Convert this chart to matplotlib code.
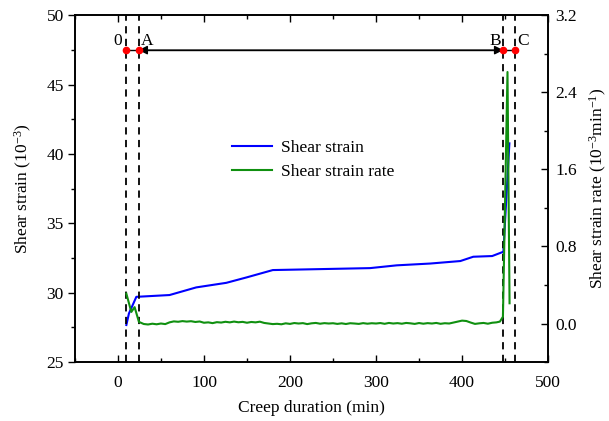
import matplotlib
matplotlib.use("Agg")
from matplotlib import pyplot as plt
from matplotlib.ticker import MultipleLocator
import numpy as np

plt.rcParams['font.family'] = ['Liberation Serif', 'DejaVu Serif']
plt.rcParams['mathtext.fontset'] = 'custom'
plt.rcParams['mathtext.rm'] = 'Liberation Serif'
plt.rcParams['mathtext.it'] = 'Liberation Serif:italic'
plt.rcParams['font.size'] = 12.5

# shear strain (10^-3) vs creep duration (min)
strain_t = [9.8, 12.8, 21.4, 60, 91, 126, 149.5, 180, 293, 324, 363, 398, 413, 435, 448, 455]
strain = [27.67, 28.5, 29.7, 29.83, 30.38, 30.71, 31.1, 31.63, 31.77, 31.97, 32.1, 32.28,
          32.59, 32.64, 32.95, 40.76]

# shear strain rate (10^-3 min^-1)
rate_t = [9.8, 15.6, 19.4, 24.4,
          30, 35, 40, 45, 50, 55, 60, 65, 70, 75, 80, 85, 90, 95, 100, 105,
          110, 115, 120, 125, 130, 135, 140, 145, 150, 155, 160, 165, 170, 175, 180, 185,
          190, 195, 200, 205, 210, 215, 220, 225, 230, 235, 240, 245, 250, 255, 260, 265,
          270, 275, 280, 285, 290, 295, 300, 305, 310, 315, 320, 325, 330, 335, 340, 345,
          350, 355, 360, 365, 370, 375, 380, 385, 390, 395, 400, 405, 410, 415, 420, 425,
          430, 435, 440, 444, 447.5, 452.8, 455.2]
rate = [0.31, 0.12, 0.17, 0.017,
        -0.005, -0.01, -0.002, -0.008, 0.0, -0.006, 0.012, 0.022, 0.018, 0.025, 0.02, 0.024, 0.016, 0.021, 0.008, 0.012,
        0.004, 0.014, 0.01, 0.018, 0.012, 0.02, 0.013, 0.017, 0.008, 0.016, 0.012, 0.019, 0.006, 0.0, -0.006, -0.003,
        -0.008, 0.002, -0.004, 0.005, 0.0, 0.004, -0.006, 0.002, 0.006, -0.002, 0.004, 0.0, 0.003, -0.004, 0.002, -0.005,
        0.003, 0.0, -0.004, 0.004, -0.002, 0.003, 0.0, 0.005, -0.003, 0.006, 0.0, 0.004, -0.002, 0.006, 0.002, -0.004,
        0.005, -0.002, 0.004, 0.0, 0.006, -0.003, 0.003, 0.0, 0.01, 0.02, 0.03, 0.026, 0.01, -0.004, 0.002, 0.006,
        -0.002, 0.008, 0.012, 0.02, 0.07, 2.61, 0.21]

# stage boundaries
event_t = [9, 24, 448, 461]
event_lbl = ['0', 'A', 'B', 'C']

fig = plt.figure(figsize=(6.09, 4.21), dpi=100)
ax = fig.add_axes([0.123, 0.140, 0.777, 0.824])
ax2 = ax.twinx()

l1, = ax.plot(strain_t, strain, color='#0000ff', lw=1.5, label='Shear strain')
l2, = ax2.plot(rate_t, rate, color='#109010', lw=1.5, label='Shear strain rate')

for t in event_t:
    ax.axvline(t, color='black', ls=(0, (4, 3)), lw=1.3)

y_ann = 47.48
ax.plot([event_t[0], event_t[3]], [y_ann, y_ann], color='black', lw=1.0)
ax.annotate('', xy=(event_t[1], y_ann), xytext=(event_t[2], y_ann),
            arrowprops=dict(arrowstyle='<|-|>', color='black', lw=1.0,
                            mutation_scale=13, shrinkA=0, shrinkB=0))
ax.plot(event_t, [y_ann] * 4, 'o', color='red', ms=4.5, zorder=5)
ax.text(event_t[0] - 4, 48.15, '0', ha='right', va='center')
ax.text(event_t[1] + 3, 48.15, 'A', ha='left', va='center')
ax.text(event_t[2] - 3, 48.15, 'B', ha='right', va='center')
ax.text(event_t[3] + 3, 48.15, 'C', ha='left', va='center')

ax.set_xlim(-50, 500)
ax.set_ylim(25, 50)
ax2.set_ylim(-0.4, 3.2)

ax.xaxis.set_major_locator(MultipleLocator(100))
ax.xaxis.set_minor_locator(MultipleLocator(50))
ax.yaxis.set_major_locator(MultipleLocator(5))
ax.yaxis.set_minor_locator(MultipleLocator(2.5))
ax2.yaxis.set_major_locator(MultipleLocator(0.8))
ax2.yaxis.set_minor_locator(MultipleLocator(0.4))
ax2.yaxis.set_major_formatter(matplotlib.ticker.FormatStrFormatter('%.1f'))

ax.tick_params(axis='x', which='both', direction='in', top=True, bottom=True)
ax.tick_params(axis='x', which='major', length=5, width=1.0, pad=9)
ax.tick_params(axis='x', which='minor', length=3, width=1.0)
ax.tick_params(axis='y', which='both', direction='out', right=False)
ax.tick_params(axis='y', which='major', length=5, width=1.0, pad=3)
ax.tick_params(axis='y', which='minor', length=3, width=1.0)
ax2.tick_params(axis='y', which='both', direction='in')
ax2.tick_params(axis='y', which='major', length=5, width=1.0, pad=5)
ax2.tick_params(axis='y', which='minor', length=3, width=1.0)
for sp in ax.spines.values():
    sp.set_linewidth(1.2)
for sp in ax2.spines.values():
    sp.set_linewidth(1.2)

ax.set_xlabel('Creep duration (min)', labelpad=7)
ax.set_ylabel('Shear strain (10$^{-3}$)', labelpad=9)
ax2.set_ylabel('Shear strain rate (10$^{-3}$min$^{-1}$)', labelpad=8)

ax.legend([l1, l2], ['Shear strain', 'Shear strain rate'], frameon=False,
          loc='upper left', bbox_to_anchor=(0.299, 0.685), handlelength=2.3,
          handletextpad=0.5, labelspacing=0.45)

fig.savefig('out.png', dpi=100)
